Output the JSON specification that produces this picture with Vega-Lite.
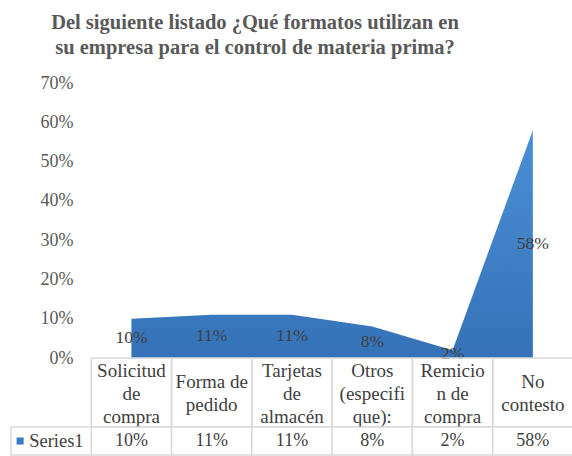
{
  "$schema": "https://vega.github.io/schema/vega-lite/v6.json",
  "padding": {"left": 10, "top": 12, "right": 0, "bottom": 0},
  "background": "white",
  "bounds": "flush",
  "title": {
    "text": ["Del siguiente listado ¿Qué formatos utilizan en", "su empresa para el control de materia prima?"],
    "font": "Liberation Serif", "fontSize": 20.5, "fontWeight": "bold", "color": "#595959",
    "anchor": "middle", "dx": -37, "lineHeight": 25, "offset": 16
  },
  "config": {"view": {"stroke": null}, "font": "Liberation Serif"},
  "spacing": 0,
  "datasets": {
    "vals": [
      {"cat": "Solicitud de compra", "lbl": "Solicitud\nde\ncompra", "v": 0.10},
      {"cat": "Forma de pedido", "lbl": "Forma de\npedido", "v": 0.11},
      {"cat": "Tarjetas de almacén", "lbl": "Tarjetas\nde\nalmacén", "v": 0.11},
      {"cat": "Otros (especifique):", "lbl": "Otros\n(especifi\nque):", "v": 0.08},
      {"cat": "Remicion de compra", "lbl": "Remicio\nn de\ncompra", "v": 0.02},
      {"cat": "No contesto", "lbl": "No\ncontesto", "v": 0.58}
    ]
  },
  "vconcat": [
    {
      "width": 562, "height": 275,
      "data": {"name": "vals"},
      "layer": [
        {
          "mark": {"type": "area", "color": {"gradient": "linear", "x1": 0, "y1": 0, "x2": 0, "y2": 1,
            "stops": [{"offset": 0, "color": "#4b8fd6"}, {"offset": 1, "color": "#3572b8"}]}, "opacity": 1},
          "encoding": {
            "x": {"field": "cat", "type": "nominal", "bandPosition": 0.5,
              "scale": {"type": "band", "domain": ["__label", "Solicitud de compra", "Forma de pedido", "Tarjetas de almacén", "Otros (especifique):", "Remicion de compra", "No contesto"], "paddingInner": 0, "paddingOuter": 0},
              "axis": null},
            "y": {"field": "v", "type": "quantitative", "scale": {"domain": [0, 0.7]},
              "axis": {"values": [0, 0.1, 0.2, 0.3, 0.4, 0.5, 0.6, 0.7], "format": ".0%", "domain": false, "ticks": false, "grid": false, "title": null, "labelOverlap": false,
                "labelFont": "Liberation Serif", "labelFontSize": 18, "labelColor": "#595959", "labelPadding": 0, "offset": -62}}
          }
        },
        {
          "transform": [{"calculate": "datum.v / 2", "as": "mid"}],
          "mark": {"type": "text", "font": "Liberation Serif", "fontSize": 17.5, "color": "#404040", "baseline": "middle"},
          "encoding": {
            "x": {"field": "cat", "type": "nominal", "bandPosition": 0.5},
            "y": {"field": "mid", "type": "quantitative",
              "axis": {"values": [0, 0.1, 0.2, 0.3, 0.4, 0.5, 0.6, 0.7], "format": ".0%", "domain": false, "ticks": false, "grid": false, "title": null, "labelOverlap": false,
                "labelFont": "Liberation Serif", "labelFontSize": 18, "labelColor": "#595959", "labelPadding": 0, "offset": -62}},
            "text": {"field": "v", "type": "quantitative", "format": ".0%"}
          }
        }
      ]
    },
    {
      "width": 562, "height": 69,
      "data": {"name": "vals"},
      "layer": [
        {
          "mark": {"type": "rect", "fill": "white", "fillOpacity": 0, "stroke": "#d9d9d9", "strokeWidth": 1.5},
          "encoding": {
            "x": {"field": "cat", "type": "nominal",
              "scale": {"type": "band", "domain": ["__label", "Solicitud de compra", "Forma de pedido", "Tarjetas de almacén", "Otros (especifique):", "Remicion de compra", "No contesto"], "paddingInner": 0, "paddingOuter": 0},
              "axis": null}
          }
        },
        {
          "transform": [{"filter": "length(split(datum.lbl, '\\n')) == 3"}],
          "mark": {"type": "text", "font": "Liberation Serif", "fontSize": 19, "color": "#404040", "baseline": "middle", "lineBreak": "\n", "lineHeight": 23, "dy": -22},
          "encoding": {
            "x": {"field": "cat", "type": "nominal", "bandPosition": 0.5},
            "text": {"field": "lbl", "type": "nominal"}
          }
        },
        {
          "transform": [{"filter": "length(split(datum.lbl, '\\n')) == 2"}],
          "mark": {"type": "text", "font": "Liberation Serif", "fontSize": 19, "color": "#404040", "baseline": "middle", "lineBreak": "\n", "lineHeight": 23, "dy": -10.5},
          "encoding": {
            "x": {"field": "cat", "type": "nominal", "bandPosition": 0.5},
            "text": {"field": "lbl", "type": "nominal"}
          }
        }
      ]
    },
    {
      "width": 562, "height": 28,
      "layer": [
        {
          "data": {"name": "vals"},
          "mark": {"type": "rect", "fill": "white", "stroke": "#d9d9d9", "strokeWidth": 1.5},
          "encoding": {
            "x": {"field": "cat", "type": "nominal",
              "scale": {"type": "band", "domain": ["__label", "Solicitud de compra", "Forma de pedido", "Tarjetas de almacén", "Otros (especifique):", "Remicion de compra", "No contesto"], "paddingInner": 0, "paddingOuter": 0},
              "axis": null}
          }
        },
        {
          "data": {"name": "vals"},
          "mark": {"type": "text", "font": "Liberation Serif", "fontSize": 18, "color": "#404040", "baseline": "middle"},
          "encoding": {
            "x": {"field": "cat", "type": "nominal", "bandPosition": 0.5},
            "text": {"field": "v", "type": "quantitative", "format": ".0%"}
          }
        },
        {
          "data": {"values": [{"s": "Series1"}]},
          "layer": [
            {
              "mark": {"type": "rect", "fill": "white", "stroke": "#d9d9d9", "strokeWidth": 1.5},
              "encoding": {"x": {"datum": "__label"}}
            },
            {
              "mark": {"type": "square", "size": 50, "filled": true, "opacity": 1, "color": "#3a7bc4", "xOffset": -31},
              "encoding": {"x": {"datum": "__label", "bandPosition": 0.5}}
            },
            {
              "mark": {"type": "text", "font": "Liberation Serif", "fontSize": 18.5, "color": "#404040", "baseline": "middle", "align": "left", "dx": -22},
              "encoding": {"x": {"datum": "__label", "bandPosition": 0.5}, "text": {"field": "s"}}
            }
          ]
        }
      ]
    }
  ]
}
